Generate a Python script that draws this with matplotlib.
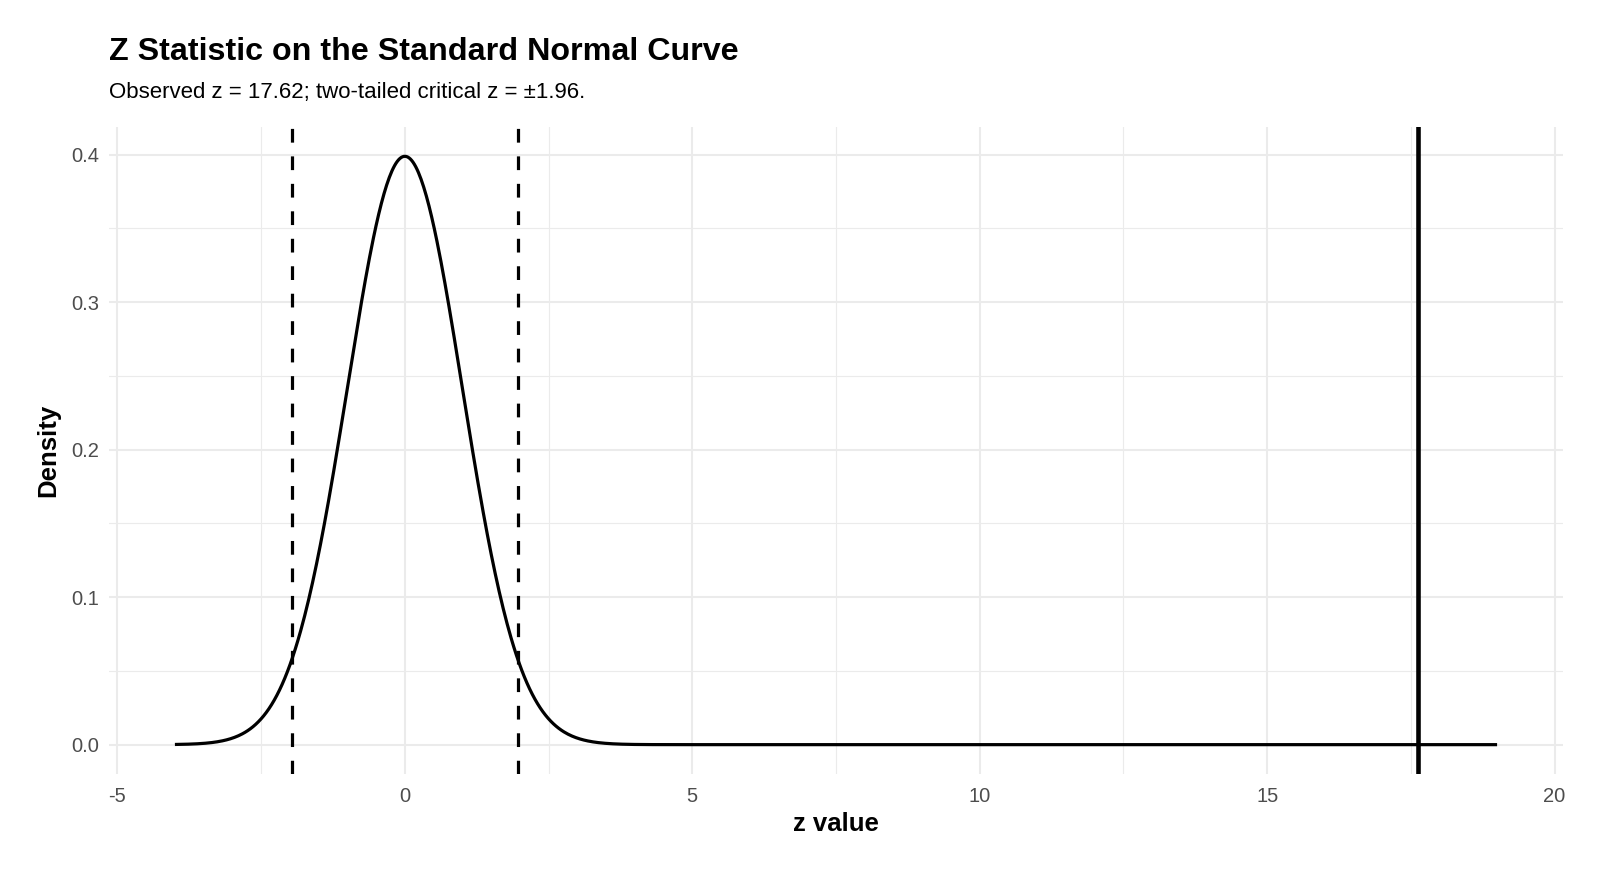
import numpy as np
import matplotlib
matplotlib.use("Agg")
import matplotlib.pyplot as plt
from matplotlib.ticker import MultipleLocator

# ─── Data ────────────────────────────────────────────────────────────────────

z_observed = 17.62
z_critical = 1.96
curve_range = [-4, 19]        # range of z drawn for the density curve
x_ticks = [-5, 0, 5, 10, 15, 20]
y_ticks = [0.0, 0.1, 0.2, 0.3, 0.4]

z_grid = np.linspace(curve_range[0], curve_range[1], 1000)
density = np.exp(-z_grid ** 2 / 2) / np.sqrt(2 * np.pi)

# ─── Figure ──────────────────────────────────────────────────────────────────

plt.rcParams["font.family"] = ["Liberation Sans", "DejaVu Sans"]

fig = plt.figure(figsize=(16, 8.73), dpi=100)
ax = fig.add_axes([0.068, 0.1134, 0.909, 0.7411])

ax.set_xlim(-5.15, 20.15)
ax.set_ylim(-0.0199, 0.4188)

# ggplot-style grid
ax.set_xticks(x_ticks)
ax.set_yticks(y_ticks)
ax.xaxis.set_minor_locator(MultipleLocator(2.5))
ax.yaxis.set_minor_locator(MultipleLocator(0.05))
ax.grid(which="major", color="#ebebeb", lw=1.5)
ax.grid(which="minor", color="#ebebeb", lw=0.8)
ax.set_axisbelow(True)
for s in ax.spines.values():
    s.set_visible(False)
ax.tick_params(which="both", length=0, colors="#4d4d4d", labelsize=14.5)
ax.tick_params(axis="x", pad=9)
ax.tick_params(axis="y", pad=7)
ax.set_xticklabels([str(t) for t in x_ticks])
ax.set_yticklabels([f"{t:.1f}" for t in y_ticks])

# curve + reference lines
ax.plot(z_grid, density, color="black", lw=2.3, solid_capstyle="butt")
for zc in (-z_critical, z_critical):
    ax.axvline(zc, color="black", lw=2.3, ls=(0, (4.3, 4.3)))
ax.axvline(z_observed, color="black", lw=3.3)

ax.set_xlabel("z value", fontsize=18.5, fontweight="bold", labelpad=5)
ax.set_ylabel("Density", fontsize=18.5, fontweight="bold", labelpad=8)

fig.text(0.068, 0.941, "Z Statistic on the Standard Normal Curve",
         fontsize=23.2, fontweight="bold", va="center")
fig.text(0.068, 0.894, "Observed z = 17.62; two-tailed critical z = \u00b11.96.",
         fontsize=16, va="center")

fig.savefig("out.png", dpi=100)
